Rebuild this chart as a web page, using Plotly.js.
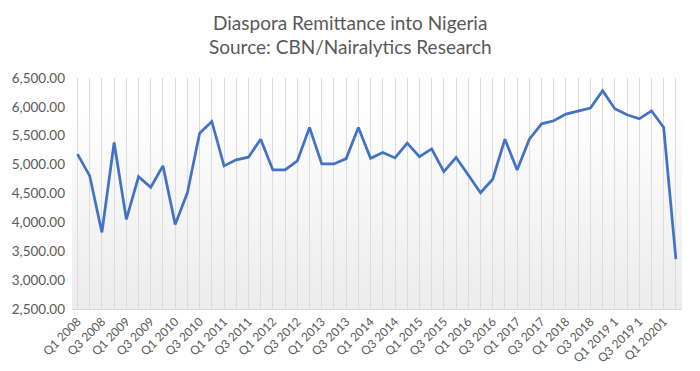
<!DOCTYPE html>
<html>
<head>
<meta charset="utf-8">
<script src="https://cdn.plot.ly/plotly-3.0.1.min.js"></script>
<style>html,body{margin:0;padding:0;background:#fff;}#chart{width:700px;height:371px;}</style>
</head>
<body>
<div id="chart"></div>
<script>
const quarters = [
  "Q1 2008","Q2 2008","Q3 2008","Q4 2008",
  "Q1 2009","Q2 2009","Q3 2009","Q4 2009",
  "Q1 2010","Q2 2010","Q3 2010","Q4 2010",
  "Q1 2011","Q2 2011","Q3 2011","Q4 2011",
  "Q1 2012","Q2 2012","Q3 2012","Q4 2012",
  "Q1 2013","Q2 2013","Q3 2013","Q4 2013",
  "Q1 2014","Q2 2014","Q3 2014","Q4 2014",
  "Q1 2015","Q2 2015","Q3 2015","Q4 2015",
  "Q1 2016","Q2 2016","Q3 2016","Q4 2016",
  "Q1 2017","Q2 2017","Q3 2017","Q4 2017",
  "Q1 2018","Q2 2018","Q3 2018","Q4 2018",
  "Q1 2019 1","Q2 2019 1","Q3 2019 1","Q4 2019 1",
  "Q1 20201","Q2 20201"
];
const remittance = [
  5181, 4804, 3826, 5382,
  4052, 4792, 4608, 4978,
  3965, 4514, 5545, 5747,
  4978, 5082, 5129, 5441,
  4908, 4908, 5064, 5642,
  5012, 5012, 5104, 5642,
  5110, 5208, 5116, 5372,
  5139, 5273, 4879, 5122,
  4821, 4514, 4747, 5441,
  4908, 5441, 5707, 5759,
  5875, 5932, 5979, 6280,
  5967, 5863, 5793, 5932,
  5642, 3363
];
const yTicks = [2500, 3000, 3500, 4000, 4500, 5000, 5500, 6000, 6500];
const titleLines = ["Diaspora Remittance into Nigeria", "Source: CBN/Nairalytics Research"];

const tickText = quarters.map((q, i) => (i % 2 === 0 ? q : ""));
const gray = "#595959";
const fontFam = "Lato, 'Open Sans', sans-serif";
const gradSvg = '<svg xmlns="http://www.w3.org/2000/svg" width="10" height="100" preserveAspectRatio="none"><defs><linearGradient id="g" x1="0" y1="0" x2="0" y2="1"><stop offset="0" stop-color="#ffffff"/><stop offset="1" stop-color="#ececec"/></linearGradient></defs><rect width="10" height="100" fill="url(#g)"/></svg>';
const gradUri = "data:image/svg+xml;base64," + btoa(gradSvg);

const trace = {
  type: "scatter",
  mode: "lines",
  x: quarters,
  y: remittance,
  line: {color: "#4472C4", width: 2.75},
  hoverinfo: "x+y"
};

const layout = {
  width: 700, height: 371,
  margin: {l: 72, r: 18, t: 78, b: 62},
  paper_bgcolor: "#ffffff",
  plot_bgcolor: "rgba(0,0,0,0)",
  font: {family: fontFam, color: gray},
  showlegend: false,
  annotations: [
    {text: titleLines[0], xref: "paper", yref: "paper", x: 0.456, y: 1.242,
     xanchor: "center", yanchor: "middle", showarrow: false,
     font: {family: fontFam, size: 19, color: gray}},
    {text: titleLines[1], xref: "paper", yref: "paper", x: 0.456, y: 1.1385,
     xanchor: "center", yanchor: "middle", showarrow: false,
     font: {family: fontFam, size: 19, color: gray}}
  ],
  xaxis: {
    type: "category",
    range: [-0.45, 49.5],
    tickmode: "array",
    tickvals: quarters,
    ticktext: tickText,
    tickangle: -45,
    tickfont: {size: 12, color: gray},
    showgrid: true,
    gridcolor: "#dcdcdc",
    gridwidth: 1,
    showline: true,
    linecolor: "#d9d9d9",
    ticks: "",
    zeroline: false,
    fixedrange: true
  },
  yaxis: {
    range: [2500, 6500],
    tickmode: "array",
    tickvals: yTicks,
    tickformat: ",.2f",
    tickfont: {size: 13.5, color: gray},
    showgrid: false,
    zeroline: false,
    showline: false,
    ticks: "",
    ticklabelstandoff: 6,
    fixedrange: true
  },
  images: [{
    source: gradUri,
    xref: "paper", yref: "y",
    x: 0, y: 6080,
    sizex: 1, sizey: 3580,
    sizing: "stretch",
    xanchor: "left", yanchor: "top",
    layer: "below"
  }]
};

Plotly.newPlot("chart", [trace], layout, {displayModeBar: false, staticPlot: true});
</script>
</body>
</html>
